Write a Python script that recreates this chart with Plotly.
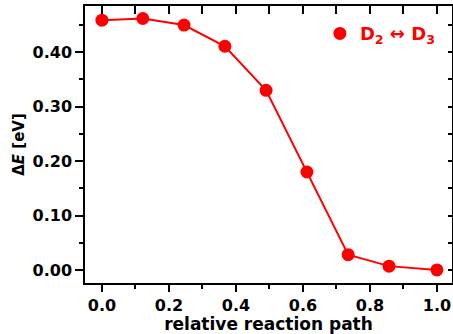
import plotly.graph_objects as go

path = [0.0, 0.122, 0.245, 0.367, 0.490, 0.612, 0.735, 0.857, 1.0]
delta_e = [0.459, 0.462, 0.450, 0.411, 0.330, 0.180, 0.028, 0.007, 0.000]
series_name = "<b>D<sub>2</sub> ↔ D<sub>3</sub></b>"

RED = "#ff0000"
FONT = "DejaVu Sans"
xr = [-0.0505, 1.045]
yr = [-0.024, 0.485]

fig = go.Figure()
fig.add_trace(go.Scatter(
    x=path, y=delta_e, mode="lines+markers",
    line=dict(color=RED, width=2),
    marker=dict(color=RED, size=13),
    showlegend=False,
))
fig.add_trace(go.Scatter(
    x=[None], y=[None], mode="markers",
    marker=dict(color=RED, size=13),
    name=series_name, showlegend=True,
))

axis_common = dict(showline=True, linecolor="black", linewidth=1.5,
                   showgrid=False, zeroline=False)

fig.update_layout(
    width=453, height=334,
    margin=dict(l=85, r=1, t=6, b=51),
    plot_bgcolor="white", paper_bgcolor="white",
    font=dict(family=FONT, color="black"),
    xaxis=dict(
        range=xr, tickmode="linear", tick0=0, dtick=0.2, tickformat=".1f",
        ticks="outside", ticklen=7, tickwidth=1.5, tickcolor="black",
        minor=dict(tickmode="linear", tick0=0, dtick=0.1, ticks="outside", ticklen=4, tickwidth=1.5, tickcolor="black"),
        tickfont=dict(size=16, family=FONT, weight="bold"),
        title=dict(text="relative reaction path", font=dict(size=17, family=FONT, weight="bold"), standoff=0),
        **axis_common,
    ),
    yaxis=dict(
        range=yr, tickmode="linear", tick0=0, dtick=0.1, tickformat=".2f",
        ticks="outside", ticklen=8, tickwidth=1.5, tickcolor="black",
        minor=dict(tickmode="linear", tick0=0, dtick=0.05, ticks="outside", ticklen=4, tickwidth=1.5, tickcolor="black"),
        tickfont=dict(size=16, family=FONT, weight="bold"),
        title=dict(text="Δ<i>E</i> [eV]", font=dict(size=15, family=FONT, weight="bold"), standoff=4),
        **axis_common,
    ),
    xaxis2=dict(
        range=xr, overlaying="x", side="top", tickmode="linear", tick0=0, dtick=0.1,
        ticks="inside", ticklen=8, tickwidth=1.5, tickcolor="black", showticklabels=False,
        **axis_common,
    ),
    yaxis2=dict(
        range=yr, overlaying="y", side="right", tickmode="linear", tick0=0, dtick=0.05,
        ticks="inside", ticklen=4, tickwidth=1.5, tickcolor="black", showticklabels=False,
        **axis_common,
    ),
    legend=dict(
        x=0.64, y=0.90, xanchor="left", yanchor="middle",
        bgcolor="rgba(0,0,0,0)", borderwidth=0,
        font=dict(size=18, family=FONT, color=RED),
        itemwidth=30,
    ),
)
fig.add_trace(go.Scatter(x=[None], y=[None], xaxis="x2", yaxis="y2", showlegend=False, hoverinfo="skip"))

fig.write_html("out.html")
